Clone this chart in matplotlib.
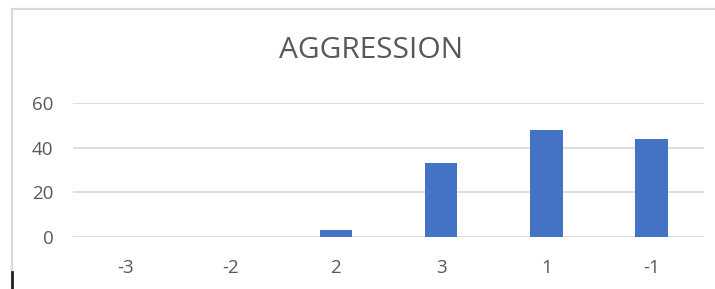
import matplotlib
matplotlib.use("Agg")
import matplotlib.pyplot as plt
from matplotlib.patches import Rectangle
from matplotlib.lines import Line2D

categories = ["-3", "-2", "2", "3", "1", "-1"]
counts = [0, 0, 3, 33, 48, 44]
yticks = [0, 20, 40, 60]

W, H = 715, 289
fig = plt.figure(figsize=(W / 100, H / 100), dpi=100)
plt.rcParams['font.family'] = ['Open Sans', 'DejaVu Sans']

# chart frame (extends past the right/bottom edge in the screenshot)
fig.patches.append(Rectangle((12 / W, -0.1), 1.2, 1 - 8.5 / H + 0.1,
                             transform=fig.transFigure, fill=False,
                             edgecolor='#d9d9d9', linewidth=1.6))
# dark cursor mark bottom-left
fig.lines.append(Line2D([12 / W, 12 / W], [0, 1 - 272 / H],
                        transform=fig.transFigure, color='#222222', linewidth=2))

ax = fig.add_axes([73 / W, 1 - 237 / H, (704 - 73) / W, (237 - 103) / H])
x = range(len(categories))
ax.bar(x, counts, width=0.31, color='#4472c4', zorder=3)

ax.set_xlim(-0.5, len(categories) - 0.5)
ax.set_ylim(0, 60)
ax.set_yticks(yticks)
ax.set_xticks(list(x))
ax.set_xticklabels(categories)
ax.grid(axis='y', color='#d9d9d9', linewidth=1.2, zorder=0)
for s in ax.spines.values():
    s.set_visible(False)
ax.tick_params(length=0, labelsize=13.5, colors='#595959')
ax.tick_params(axis='x', pad=16)
ax.tick_params(axis='y', pad=14)

fig.text(371 / W, 1 - 50 / H, "AGGRESSION", ha='center', va='center',
         fontsize=21.5, color='#595959')

fig.savefig("out.png", dpi=100)
